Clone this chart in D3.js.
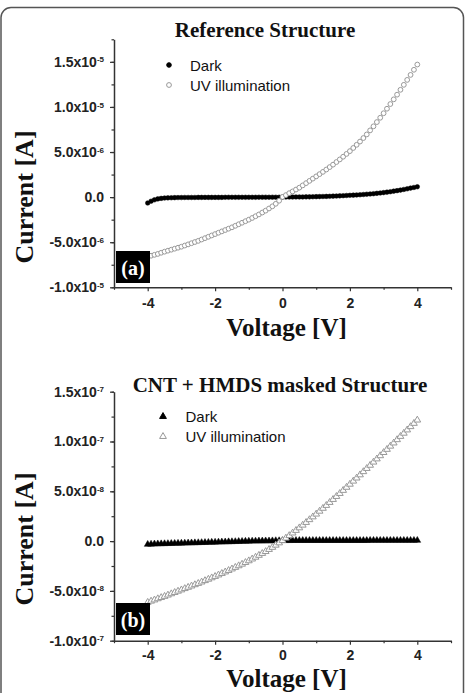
<!DOCTYPE html>
<html>
<head>
<meta charset="utf-8">
<script src="https://cdn.jsdelivr.net/npm/d3@7"></script>
<style>
  html, body { margin: 0; padding: 0; background: #fff; }
  svg { display: block; }
</style>
</head>
<body>
<div id="chart"></div>
<script>
// Voltage sweep (V), shared by both panels
const voltage = [
  -4.0, -3.9, -3.8, -3.7, -3.6, -3.5, -3.4, -3.3, -3.2, -3.1,
  -3.0, -2.9, -2.8, -2.7, -2.6, -2.5, -2.4, -2.3, -2.2, -2.1,
  -2.0, -1.9, -1.8, -1.7, -1.6, -1.5, -1.4, -1.3, -1.2, -1.1,
  -1.0, -0.9, -0.8, -0.7, -0.6, -0.5, -0.4, -0.3, -0.2, -0.1,
  0.0,
  0.1, 0.2, 0.3, 0.4, 0.5, 0.6, 0.7, 0.8, 0.9, 1.0,
  1.1, 1.2, 1.3, 1.4, 1.5, 1.6, 1.7, 1.8, 1.9, 2.0,
  2.1, 2.2, 2.3, 2.4, 2.5, 2.6, 2.7, 2.8, 2.9, 3.0,
  3.1, 3.2, 3.3, 3.4, 3.5, 3.6, 3.7, 3.8, 3.9, 4.0
];

// (a) Reference structure, current in units of 1e-6 A
const refDark = [
  -0.65, -0.45, -0.30, -0.20, -0.14, -0.10, -0.08, -0.07, -0.06, -0.05,
  -0.05, -0.04, -0.04, -0.04, -0.04, -0.03, -0.03, -0.03, -0.03, -0.03,
  -0.03, -0.03, -0.03, -0.02, -0.02, -0.02, -0.02, -0.02, -0.02, -0.02,
  -0.02, -0.02, -0.02, -0.01, -0.01, -0.01, -0.01, -0.01, -0.01, -0.01,
  0.00,
  0.01, 0.01, 0.01, 0.02, 0.02, 0.02, 0.03, 0.03, 0.04, 0.05,
  0.06, 0.07, 0.08, 0.09, 0.11, 0.12, 0.14, 0.16, 0.18, 0.20,
  0.22, 0.24, 0.26, 0.29, 0.32, 0.35, 0.38, 0.42, 0.46, 0.50,
  0.55, 0.60, 0.66, 0.72, 0.78, 0.85, 0.92, 1.00, 1.07, 1.15
];
const refUV = [
  -6.60, -6.50, -6.40, -6.30, -6.17, -6.05, -5.94, -5.83, -5.72, -5.61,
  -5.50, -5.37, -5.24, -5.11, -4.98, -4.85, -4.70, -4.55, -4.40, -4.25,
  -4.10, -3.95, -3.80, -3.65, -3.50, -3.35, -3.18, -3.01, -2.84, -2.67,
  -2.50, -2.31, -2.12, -1.92, -1.71, -1.50, -1.26, -1.02, -0.74, -0.40,
  0.02,
  0.22, 0.44, 0.63, 0.84, 1.05, 1.30, 1.55, 1.80, 2.05, 2.30,
  2.55, 2.80, 3.06, 3.33, 3.60, 3.89, 4.18, 4.48, 4.79, 5.10,
  5.45, 5.80, 6.16, 6.55, 6.95, 7.40, 7.85, 8.32, 8.80, 9.30,
  9.80, 10.32, 10.84, 11.36, 11.90, 12.45, 13.00, 13.55, 14.12, 14.70
];

// (b) CNT + HMDS masked structure, current in units of 1e-8 A
const cntDark = [
  -0.38, -0.36, -0.34, -0.33, -0.32, -0.31, -0.30, -0.29, -0.28, -0.27,
  -0.26, -0.25, -0.24, -0.23, -0.22, -0.21, -0.20, -0.19, -0.18, -0.17,
  -0.16, -0.15, -0.14, -0.13, -0.12, -0.11, -0.10, -0.09, -0.08, -0.07,
  -0.06, -0.05, -0.05, -0.04, -0.04, -0.03, -0.03, -0.02, -0.01, -0.01,
  0.00,
  0.00, 0.00, 0.01, 0.01, 0.01, 0.01, 0.01, 0.01, 0.01, 0.01,
  0.01, 0.01, 0.01, 0.01, 0.01, 0.01, 0.01, 0.01, 0.01, 0.01,
  0.01, 0.01, 0.01, 0.01, 0.01, 0.02, 0.02, 0.02, 0.02, 0.02,
  0.02, 0.02, 0.02, 0.02, 0.02, 0.02, 0.02, 0.02, 0.02, 0.02
];
const cntUV = [
  -6.20, -6.08, -5.96, -5.84, -5.72, -5.60, -5.47, -5.34, -5.21, -5.08,
  -4.95, -4.82, -4.69, -4.56, -4.43, -4.30, -4.16, -4.02, -3.88, -3.74,
  -3.60, -3.45, -3.30, -3.15, -3.00, -2.85, -2.69, -2.53, -2.37, -2.20,
  -2.03, -1.85, -1.67, -1.48, -1.29, -1.10, -0.89, -0.68, -0.46, -0.23,
  0.00,
  0.25, 0.50, 0.76, 1.02, 1.28, 1.55, 1.82, 2.10, 2.38, 2.66,
  2.95, 3.24, 3.53, 3.83, 4.13, 4.43, 4.73, 5.04, 5.35, 5.66,
  5.97, 6.28, 6.60, 6.92, 7.24, 7.56, 7.88, 8.20, 8.52, 8.84,
  9.16, 9.48, 9.80, 10.13, 10.46, 10.78, 11.11, 11.44, 11.77, 12.10
];

// Tick values and labels
const xTicks = [-4, -2, 0, 2, 4];
const xMinorTicks = [-5, -3, -1, 1, 3, 5];
const refYTicks = [-1e-5, -5e-6, 0, 5e-6, 1e-5, 1.5e-5];
const refYLabels = [['-1.0x10', '-5'], ['-5.0x10', '-6'], ['0.0', ''], ['5.0x10', '-6'], ['1.0x10', '-5'], ['1.5x10', '-5']];
const cntYTicks = [-1e-7, -5e-8, 0, 5e-8, 1e-7, 1.5e-7];
const cntYLabels = [['-1.0x10', '-7'], ['-5.0x10', '-8'], ['0.0', ''], ['5.0x10', '-8'], ['1.0x10', '-7'], ['1.5x10', '-7']];
const seriesNames = ['Dark', 'UV illumination'];

const W = 467, H = 693;
const sans = '"Liberation Sans", Arial, sans-serif';
const serif = '"Liberation Serif", "Times New Roman", serif';

const svg = d3.select('#chart').append('svg')
  .attr('width', W)
  .attr('height', H);

svg.append('rect').attr('width', W).attr('height', H).attr('fill', '#fff');

// Rounded figure frame
svg.append('rect')
  .attr('x', 1).attr('y', 7.5)
  .attr('width', 462.5).attr('height', 720)
  .attr('rx', 10)
  .attr('fill', 'none')
  .attr('stroke', '#555')
  .attr('stroke-width', 1.5);

const panels = [
  {
    title: 'Reference Structure', titleX: 265, titleY: 37,
    top: 39.3, bottom: 287.3, yDomain: [-1e-5, 1.75e-5], minorStep: 2.5e-6,
    yTicks: refYTicks, yLabels: refYLabels,
    dark: refDark, uv: refUV, unit: 1e-6, marker: 'circle',
    legendX: 169, legendY: 65, legendTextX: 190,
    tag: '(a)', tagY: 251,
    xPad: 7, xLabelY: 336, yLabelY: 197
  },
  {
    title: 'CNT + HMDS masked Structure', titleX: 280, titleY: 392,
    top: 391.7, bottom: 640.7, yDomain: [-1e-7, 1.5e-7], minorStep: 2.5e-8,
    yTicks: cntYTicks, yLabels: cntYLabels,
    dark: cntDark, uv: cntUV, unit: 1e-8, marker: 'triangle',
    legendX: 163, legendY: 416.5, legendTextX: 185.5,
    tag: '(b)', tagY: 603,
    xPad: 5, xLabelY: 687, yLabelY: 539
  }
];

const xLeft = 114, xRight = 451;

panels.forEach(p => {
  const x = d3.scaleLinear().domain([-5, 5]).range([xLeft, xRight]);
  const y = d3.scaleLinear().domain(p.yDomain).range([p.bottom, p.top]);
  const g = svg.append('g');

  // Title
  g.append('text')
    .attr('x', p.titleX).attr('y', p.titleY)
    .attr('text-anchor', 'middle')
    .attr('font-family', serif).attr('font-weight', 'bold').attr('font-size', 21)
    .attr('fill', '#111')
    .text(p.title);

  // Minor ticks
  const yMinor = d3.range(p.yDomain[0], p.yDomain[1] + p.minorStep / 2, p.minorStep);
  g.append('g')
    .attr('transform', `translate(${xLeft},0)`)
    .call(d3.axisLeft(y).tickValues(yMinor).tickSize(2.5).tickFormat(''))
    .call(a => a.select('.domain').remove());
  g.append('g')
    .attr('transform', `translate(0,${p.bottom})`)
    .call(d3.axisBottom(x).tickValues(xMinorTicks).tickSize(2.5).tickFormat(''))
    .call(a => a.select('.domain').remove());

  // Y axis with x10^n labels
  const yAxis = g.append('g')
    .attr('transform', `translate(${xLeft},0)`)
    .call(d3.axisLeft(y).tickValues(p.yTicks).tickSize(4).tickSizeOuter(0).tickPadding(6).tickFormat(''));
  yAxis.selectAll('.tick text').each(function(d, i) {
    const t = d3.select(this);
    const lab = p.yLabels[i];
    t.append('tspan').text(lab[0]);
    if (lab[1]) {
      t.append('tspan').attr('dy', '-0.55em').attr('font-size', 8).text(lab[1]);
    }
  });

  // X axis (plain hyphen minus like the original)
  const xAxis = g.append('g')
    .attr('transform', `translate(0,${p.bottom})`)
    .call(d3.axisBottom(x).tickValues(xTicks).tickSize(4).tickSizeOuter(0).tickPadding(p.xPad).tickFormat(d => String(d)));

  [yAxis, xAxis].forEach(a => {
    a.select('.domain').attr('stroke', '#333').attr('stroke-width', 1.5);
    a.selectAll('.tick text')
      .attr('font-family', sans).attr('font-weight', 'bold').attr('font-size', 14)
      .attr('fill', '#222');
  });
  g.selectAll('.tick line').attr('stroke', '#333').attr('stroke-width', 1.2);

  // Axis titles
  g.append('text')
    .attr('transform', `translate(33,${p.yLabelY}) rotate(-90)`)
    .attr('text-anchor', 'middle')
    .attr('font-family', serif).attr('font-weight', 'bold').attr('font-size', 26)
    .attr('fill', '#111')
    .text('Current [A]');
  g.append('text')
    .attr('x', 286.5).attr('y', p.xLabelY)
    .attr('text-anchor', 'middle')
    .attr('font-family', serif).attr('font-weight', 'bold').attr('font-size', 25)
    .attr('fill', '#111')
    .text('Voltage [V]');

  // Markers
  const tri = d3.symbol().type(d3.symbolTriangle).size(20);
  const drawSeries = (vals, dark) => {
    const pts = voltage.map((v, i) => ({ v: v, c: vals[i] * p.unit }));
    const sg = g.append('g');
    if (p.marker === 'circle') {
      sg.selectAll('circle').data(pts).enter().append('circle')
        .attr('cx', d => x(d.v)).attr('cy', d => y(d.c))
        .attr('r', dark ? 2.3 : 2.4)
        .attr('fill', dark ? '#000' : '#fff')
        .attr('stroke', dark ? '#000' : '#999')
        .attr('stroke-width', dark ? 0.5 : 1);
    } else {
      sg.selectAll('path').data(pts).enter().append('path')
        .attr('d', tri)
        .attr('transform', d => `translate(${x(d.v)},${y(d.c) - 0.5})`)
        .attr('fill', dark ? '#000' : '#fff')
        .attr('stroke', dark ? '#000' : '#999')
        .attr('stroke-width', dark ? 0.5 : 1);
    }
  };
  drawSeries(p.dark, true);
  drawSeries(p.uv, false);

  // Legend
  seriesNames.forEach((name, i) => {
    const ly = p.legendY + i * 20;
    const dark = i === 0;
    if (p.marker === 'circle') {
      g.append('circle')
        .attr('cx', p.legendX).attr('cy', ly).attr('r', dark ? 2.3 : 2.4)
        .attr('fill', dark ? '#000' : '#fff')
        .attr('stroke', dark ? '#000' : '#999');
    } else {
      g.append('path').attr('d', tri)
        .attr('transform', `translate(${p.legendX},${ly})`)
        .attr('fill', dark ? '#000' : '#fff')
        .attr('stroke', dark ? '#000' : '#999');
    }
    g.append('text')
      .attr('x', p.legendTextX).attr('y', ly + 5.5)
      .attr('font-family', sans).attr('font-size', 15)
      .attr('fill', '#111')
      .text(name);
  });

  // Panel tag
  g.append('rect')
    .attr('x', 116).attr('y', p.tagY).attr('width', 34).attr('height', 32)
    .attr('fill', '#000');
  g.append('text')
    .attr('x', 133).attr('y', p.tagY + 24)
    .attr('text-anchor', 'middle')
    .attr('font-family', serif).attr('font-weight', 'bold').attr('font-size', 20)
    .attr('fill', '#fff')
    .text(p.tag);
});
</script>
</body>
</html>
